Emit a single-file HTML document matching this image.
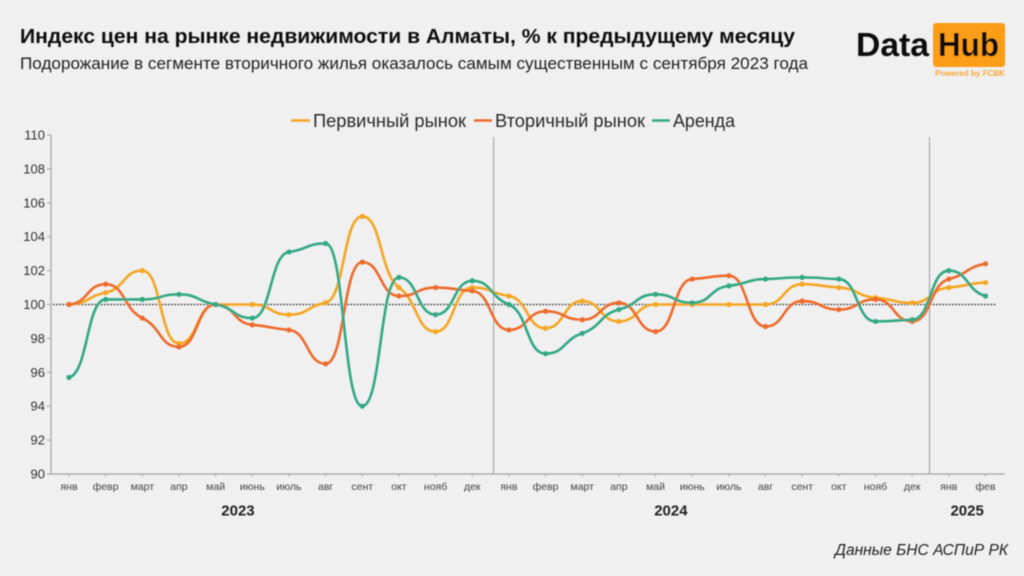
<!DOCTYPE html>
<html lang="ru">
<head>
<meta charset="utf-8">
<title>Индекс цен на рынке недвижимости в Алматы</title>
<style>
html,body{margin:0;padding:0;background:#f0f0f0;width:1024px;height:576px;overflow:hidden}
svg{display:block;font-family:"Liberation Sans","DejaVu Sans",sans-serif}
</style>
</head>
<body>
<svg id="chart" width="1024" height="576" viewBox="0 0 1024 576" xmlns="http://www.w3.org/2000/svg">
  <rect width="1024" height="576" fill="#f0f0f0"/>
  <defs><filter id="soft" x="-5%" y="-5%" width="110%" height="110%"><feGaussianBlur stdDeviation="0.45"/></filter></defs>
  <g filter="url(#soft)">
    <text x="20" y="43" font-size="20.5" font-weight="700" fill="#111" textLength="775" lengthAdjust="spacingAndGlyphs">Индекс цен на рынке недвижимости в Алматы, % к предыдущему месяцу</text>
    <text x="20" y="69" font-size="16.5" fill="#222" textLength="788" lengthAdjust="spacingAndGlyphs">Подорожание в сегменте вторичного жилья оказалось самым существенным с сентября 2023 года</text>

    <g>
      <text x="856" y="56" font-size="33" font-weight="700" fill="#111" textLength="73" lengthAdjust="spacingAndGlyphs">Data</text>
      <rect x="933" y="23" width="72" height="44" rx="3" fill="#fb9d14"/>
      <text x="938" y="56" font-size="33" font-weight="700" fill="#111" textLength="61" lengthAdjust="spacingAndGlyphs">Hub</text>
      <text x="935" y="76" font-size="8" font-weight="700" fill="#f5a83a" textLength="70" lengthAdjust="spacingAndGlyphs">Powered by FCBK</text>
    </g>

    <g font-size="18" fill="#2a2a2a">
      <g>
        <line x1="291" x2="310" y1="120.5" y2="120.5" stroke="#f5a623" stroke-width="2.5"/>
        <text x="313" y="127" textLength="153" lengthAdjust="spacingAndGlyphs">Первичный рынок</text>
      </g>
      <g>
        <line x1="474" x2="492" y1="120.5" y2="120.5" stroke="#ee6a2c" stroke-width="2.5"/>
        <text x="495" y="127" textLength="150" lengthAdjust="spacingAndGlyphs">Вторичный рынок</text>
      </g>
      <g>
        <line x1="652" x2="670" y1="120.5" y2="120.5" stroke="#32a884" stroke-width="2.5"/>
        <text x="673" y="127" textLength="62" lengthAdjust="spacingAndGlyphs">Аренда</text>
      </g>
    </g>

    <g id="axes"></g>
    <g id="marks"></g>

    <text x="1008" y="555" font-size="15.5" font-style="italic" fill="#222" text-anchor="end" textLength="173" lengthAdjust="spacingAndGlyphs">Данные БНС АСПиР РК</text>
  </g>
</svg>
<script>
const categories = ["янв","февр","март","апр","май","июнь","июль","авг","сент","окт","нояб","дек","янв","февр","март","апр","май","июнь","июль","авг","сент","окт","нояб","дек","янв","фев"];
const yearLabels = ["2023","2024","2025"];
const yearStarts = [0,12,24];
const yTicks = [90,92,94,96,98,100,102,104,106,108,110];
const primaryValues = [100,100.7,102,97.7,100,100,99.4,100.1,105.2,101,98.4,101,100.5,98.6,100.2,99,100,100,100,100,101.2,101,100.4,100.1,101,101.3];
const secondaryValues = [100,101.2,99.2,97.5,100,98.8,98.5,96.5,102.5,100.5,101,100.8,98.5,99.6,99.1,100.1,98.4,101.5,101.7,98.7,100.2,99.7,100.3,99,101.5,102.4];
const rentValues = [95.7,100.3,100.3,100.6,100,99.2,103.1,103.6,94,101.6,99.4,101.4,100,97.1,98.3,99.7,100.6,100.1,101.1,101.5,101.6,101.5,99,99.1,102,100.5];
const baselineValue = 100;

const NS = 'http://www.w3.org/2000/svg';
const axes = document.getElementById('axes');
const marks = document.getElementById('marks');
const xScale = i => 69 + i * 36.66;
const yScale = v => 474 - (v - 90) * 16.95;

function make(parent, tag, props, text) {
  const el = document.createElementNS(NS, tag);
  for (const k in props) el.setAttribute(k, props[k]);
  if (text !== undefined) el.textContent = text;
  parent.appendChild(el);
  return el;
}

const yAxis = make(axes, 'line', {x1:51, x2:51, y1:yScale(110), y2:yScale(90), stroke:'#a3a3a3', 'stroke-width':1.2});


const xAxis = make(axes, 'line', {x1:47, x2:1005, y1:yScale(90), y2:yScale(90), stroke:'#a3a3a3', 'stroke-width':1.2});



yTicks.forEach(t => {
  const tick = make(axes, 'line', {x1:47, x2:51, y1:yScale(t), y2:yScale(t), stroke:'#a3a3a3', 'stroke-width':1});
  
  
  const label = make(axes, 'text', {x:45, y:yScale(t) + 4.5, 'font-size':13, fill:'#333', 'text-anchor':'end'}, String(t));
  
  
});

categories.forEach((c, i) => {
  const tick = make(axes, 'line', {x1:xScale(i), x2:xScale(i), y1:yScale(90), y2:yScale(90) + 2.5, stroke:'#a3a3a3', 'stroke-width':1});
  
  
  const label = make(axes, 'text', {x:xScale(i), y:490, 'font-size':10.5, fill:'#444', 'text-anchor':'middle'}, c);
  
  
});

/* year captions sit about 4.5 categories after the start of their year, clamped to the last categories */
yearLabels.forEach((y, i) => {
  const nudge = i === 0 ? 4 : (i === 1 ? -3 : 0);
  const cx = xScale(Math.min(yearStarts[i] + 4.5, categories.length - 1.5)) + nudge;
  const label = make(axes, 'text', {x:cx, y:515.5, 'font-size':15, 'font-weight':700, fill:'#222', 'text-anchor':'middle'}, y);
  
  
  if (i > 0) {
    const sx = xScale(yearStarts[i] - 0.5) + (i === 1 ? 3 : -1);
    const sep = make(axes, 'line', {x1:sx, x2:sx, y1:yScale(110) + 2, y2:yScale(90), stroke:'#9a9a9a', 'stroke-width':1});
    
    
  }
});

const base = make(axes, 'line', {x1:53, x2:997, y1:yScale(baselineValue), y2:yScale(baselineValue), stroke:'#222', 'stroke-width':1.2, 'stroke-dasharray':'1.6 1.6'});



/* monotone cubic interpolation with soft tangents: flat at extremes, shouldered at points */
function smoothPath(values) {
  const n = values.length;
  const px = values.map((_, i) => xScale(i));
  const py = values.map(yScale);
  const slopes = [];
  for (let i = 0; i < n - 1; i++) slopes.push((py[i + 1] - py[i]) / (px[i + 1] - px[i]));
  const tangents = [];
  for (let i = 0; i < n; i++) {
    if (i === 0) { tangents.push(slopes[0] * 0.1); continue; }
    if (i === n - 1) { tangents.push(slopes[n - 2] * 0.4); continue; }
    const a = slopes[i - 1], b = slopes[i];
    if (a * b <= 0) { tangents.push(0); continue; }
    const sign = a > 0 ? 1 : -1;
    tangents.push(sign * Math.min(Math.abs(a), Math.abs(b), 0.5 * Math.abs(a + b)) * 0.6);
  }
  let d = 'M' + px[0].toFixed(2) + ' ' + py[0].toFixed(2);
  for (let i = 0; i < n - 1; i++) {
    const h = (px[i + 1] - px[i]) / 1.9;
    d += ' C' + (px[i] + h).toFixed(2) + ' ' + (py[i] + tangents[i] * h).toFixed(2) + ' ' +
      (px[i + 1] - h).toFixed(2) + ' ' + (py[i + 1] - tangents[i + 1] * h).toFixed(2) + ' ' +
      px[i + 1].toFixed(2) + ' ' + py[i + 1].toFixed(2);
  }
  return d;
}

function drawSeries(values, color, name) {
  const path = make(marks, 'path', {d:smoothPath(values), fill:'none', stroke:color, 'stroke-width':2.6, 'stroke-linejoin':'round'});
  
  
  values.forEach((v, i) => {
    const dot = make(marks, 'circle', {cx:xScale(i), cy:yScale(v), r:2.6, fill:color});
    
    
  });
}

drawSeries(primaryValues, '#f5a623', 'primary-market');
drawSeries(secondaryValues, '#ee6a2c', 'secondary-market');
drawSeries(rentValues, '#32a884', 'rent');
</script>
</body>
</html>
